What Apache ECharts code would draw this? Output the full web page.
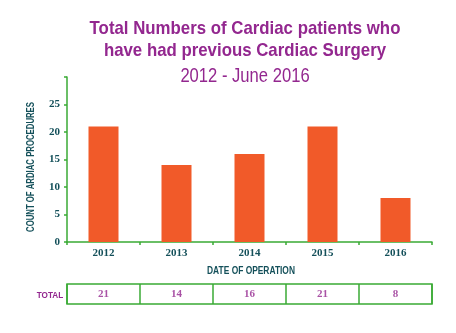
<!DOCTYPE html>
<html>
<head>
<meta charset="utf-8">
<style>
  html, body { margin: 0; padding: 0; background: #ffffff; }
  #chart { width: 456px; height: 333px; }
</style>
<script src="https://cdn.jsdelivr.net/npm/echarts@6/dist/echarts.min.js"></script>
</head>
<body>
<div id="chart"></div>
<script>
// Cardiac surgery counts per year of operation
const years = ['2012', '2013', '2014', '2015', '2016'];
const totals = [21, 14, 16, 21, 8];
const yTicks = [0, 5, 10, 15, 20, 25, 30];

const GREEN = '#3aaa35';
const PURPLE = '#93278f';
const TEAL = '#14505a';
const BAR = '#f15a29';
const SANS = '"Liberation Sans", Arial, sans-serif';
const SERIF = '"Liberation Serif", "DejaVu Serif", serif';

// condensed-looking text: a sans face squeezed horizontally
function narrowText(x, y, text, font, color, sx, opts) {
  return Object.assign({
    type: 'text', x: x, y: y, scaleX: sx, silent: true,
    style: { text: text, font: font, fill: color, textAlign: 'center', textVerticalAlign: 'middle' }
  }, opts || {});
}

const chart = echarts.init(document.getElementById('chart'));

chart.setOption({
  animation: false,
  backgroundColor: '#ffffff',
  graphic: [
    narrowText(245, 29, 'Total Numbers of Cardiac patients who', 'bold 19px ' + SANS, PURPLE, 0.885),
    narrowText(245, 51, 'have had previous Cardiac Surgery', 'bold 19px ' + SANS, PURPLE, 0.885),
    narrowText(245, 76, '2012 - June 2016', '20px ' + SANS, PURPLE, 0.83),
    narrowText(50, 295, 'TOTAL', 'bold 9.5px ' + SANS, PURPLE, 0.86),
    narrowText(251, 271, 'DATE OF OPERATION', 'bold 10.5px ' + SANS, TEAL, 0.8),
    narrowText(31, 167, 'COUNT OF ARDIAC PROCEDURES', 'bold 10.5px ' + SANS, TEAL, 0.74,
      { rotation: Math.PI / 2 })
  ],
  grid: [
    { left: 67, width: 365, top: 77, height: 165 },
    { left: 67, width: 365, top: 284, height: 20, show: true, borderColor: GREEN, borderWidth: 1.5 }
  ],
  xAxis: [
    {
      gridIndex: 0, type: 'category', data: years,
      axisLine: { lineStyle: { color: GREEN, width: 1.5 } },
      axisTick: { show: true, length: 3, lineStyle: { color: GREEN, width: 1.5 } },
      axisLabel: { color: TEAL, fontFamily: SERIF, fontWeight: 'bold', fontSize: 11, margin: 6 }
    },
    {
      gridIndex: 1, type: 'category', data: years,
      axisLine: { show: false }, axisTick: { show: false }, axisLabel: { show: false },
      splitLine: { show: true, lineStyle: { color: GREEN, width: 1.5 } }
    }
  ],
  yAxis: [
    {
      gridIndex: 0, type: 'value', min: yTicks[0], max: yTicks[yTicks.length - 1], interval: 5,
      axisLine: { show: true, lineStyle: { color: GREEN, width: 1.5 } },
      axisTick: { show: true, length: 3, lineStyle: { color: GREEN, width: 1.5 } },
      splitLine: { show: false },
      axisLabel: {
        color: TEAL, fontFamily: SERIF, fontWeight: 'bold', fontSize: 11, margin: 7,
        formatter: v => (v === yTicks[yTicks.length - 1] ? '' : String(v))
      }
    },
    {
      gridIndex: 1, type: 'value', min: 0, max: 1, show: false
    }
  ],
  series: [
    {
      type: 'bar', xAxisIndex: 0, yAxisIndex: 0,
      data: totals, barWidth: 30,
      itemStyle: { color: BAR }
    },
    {
      type: 'scatter', xAxisIndex: 1, yAxisIndex: 1,
      symbolSize: 0, silent: true,
      data: totals.map((v, i) => [i, 0.5, v]),
      label: {
        show: true, position: 'inside',
        formatter: p => String(p.data[2]),
        color: PURPLE, fontFamily: SERIF, fontWeight: 'bold', fontSize: 11
      }
    }
  ]
});
</script>
</body>
</html>
